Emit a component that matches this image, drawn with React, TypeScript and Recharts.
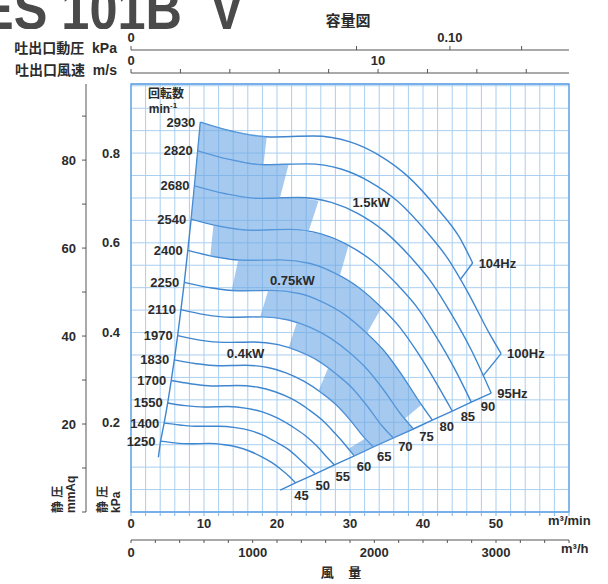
import React from 'react';
import { ComposedChart, Line, Scatter, XAxis, YAxis, CartesianGrid, ReferenceArea } from 'recharts';

// 回転数ごとの静圧曲線 [風量 m3/min, 静圧 kPa]
const c2930 = [[9.5, 0.869], [14, 0.848], [19, 0.836], [25, 0.838], [30, 0.825], [34, 0.795], [38, 0.747], [42, 0.676], [45, 0.612], [46.8, 0.555]];
const c2820 = [[9.14, 0.805], [13.47, 0.786], [18.29, 0.774], [24.06, 0.776], [28.87, 0.764], [32.72, 0.736], [36.57, 0.692], [40.42, 0.626], [43.31, 0.567], [46.2, 0.488], [49.09, 0.398], [50.7, 0.353]];
const c2680 = [[8.69, 0.727], [12.81, 0.71], [17.38, 0.699], [22.87, 0.701], [27.44, 0.69], [31.1, 0.665], [34.76, 0.625], [38.42, 0.566], [41.16, 0.512], [43.9, 0.441], [46.65, 0.36], [49.34, 0.265]];
const c2540 = [[8.24, 0.653], [12.14, 0.637], [16.47, 0.628], [21.67, 0.63], [26.01, 0.62], [29.47, 0.597], [32.94, 0.561], [36.41, 0.508], [39.01, 0.46], [41.61, 0.396], [44.21, 0.323], [46.61, 0.245]];
const c2400 = [[7.78, 0.583], [11.47, 0.569], [15.56, 0.561], [20.48, 0.562], [24.57, 0.554], [27.85, 0.533], [31.13, 0.501], [34.4, 0.454], [36.86, 0.411], [39.32, 0.354], [41.77, 0.289], [44.01, 0.225]];
const c2250 = [[7.3, 0.512], [10.75, 0.5], [14.59, 0.493], [19.2, 0.494], [23.04, 0.487], [26.11, 0.469], [29.18, 0.441], [32.25, 0.399], [34.56, 0.361], [36.86, 0.311], [39.16, 0.254], [41.27, 0.205]];
const c2110 = [[6.84, 0.451], [10.08, 0.44], [13.68, 0.434], [18.0, 0.435], [21.6, 0.428], [24.48, 0.412], [27.37, 0.387], [30.25, 0.351], [32.41, 0.317], [34.57, 0.273], [36.73, 0.223], [38.67, 0.185]];
const c1970 = [[6.39, 0.393], [9.41, 0.383], [12.77, 0.378], [16.81, 0.379], [20.17, 0.373], [22.86, 0.359], [25.55, 0.338], [28.24, 0.306], [30.26, 0.277], [32.27, 0.238], [34.29, 0.194], [35.94, 0.165]];
const c1830 = [[5.93, 0.339], [8.74, 0.331], [11.87, 0.326], [15.61, 0.327], [18.74, 0.322], [21.24, 0.31], [23.73, 0.291], [26.23, 0.264], [28.11, 0.239], [29.98, 0.206], [31.85, 0.168], [33.2, 0.145]];
const c1700 = [[5.51, 0.293], [8.12, 0.286], [11.02, 0.281], [14.51, 0.282], [17.41, 0.278], [19.73, 0.268], [22.05, 0.252], [24.37, 0.228], [26.11, 0.206], [27.85, 0.177], [29.59, 0.145], [30.6, 0.125]];
const c1550 = [[5.03, 0.243], [7.41, 0.237], [10.05, 0.234], [13.23, 0.235], [15.87, 0.231], [17.99, 0.223], [20.1, 0.209], [22.22, 0.189], [23.81, 0.171], [25.39, 0.148], [26.98, 0.12], [27.87, 0.105]];
const c1400 = [[4.54, 0.198], [6.69, 0.194], [9.08, 0.191], [11.95, 0.191], [14.33, 0.188], [16.25, 0.182], [18.16, 0.171], [20.07, 0.154], [21.5, 0.14], [22.94, 0.12], [24.37, 0.098], [25.27, 0.085]];
const c1250 = [[4.05, 0.158], [5.97, 0.154], [8.11, 0.152], [10.67, 0.153], [12.8, 0.15], [14.51, 0.145], [16.21, 0.136], [17.92, 0.123], [19.2, 0.111], [20.48, 0.096], [21.76, 0.078], [22.53, 0.065]];

const speedCurves = [c2930, c2820, c2680, c2540, c2400, c2250, c2110, c1970, c1830, c1700, c1550, c1400, c1250];
const speedLabels = ['2930', '2820', '2680', '2540', '2400', '2250', '2110', '1970', '1830', '1700', '1550', '1400', '1250'];
const freqLabels = ['104Hz', '100Hz', '95Hz', '90', '85', '80', '75', '70', '65', '60', '55', '50', '45'];

// 網掛け範囲（モーター出力帯）
const band1 = [[9.5, 0.869], [14, 0.848], [18.6, 0.837], [18.15, 0.775], [13.47, 0.786], [9.14, 0.805]];
const band2 = [[9.14, 0.805], [13.47, 0.786], [18.29, 0.774], [21.6, 0.775], [20.4, 0.7], [17.38, 0.699], [12.81, 0.71], [8.69, 0.727]];
const band3 = [[8.69, 0.727], [12.81, 0.71], [17.38, 0.699], [22.87, 0.701], [25.7, 0.694], [24.3, 0.624], [21.67, 0.63], [16.47, 0.628], [12.14, 0.637], [8.24, 0.653]];
const band4 = [[11.3, 0.64], [12.14, 0.637], [16.47, 0.628], [21.67, 0.63], [26.01, 0.62], [29.47, 0.597], [29.8, 0.594], [28.6, 0.526], [27.85, 0.533], [24.57, 0.554], [20.48, 0.562], [15.56, 0.561], [11.47, 0.569], [10.86, 0.571]];
const band5 = [[14.7, 0.563], [15.56, 0.561], [20.48, 0.562], [24.57, 0.554], [27.85, 0.533], [31.13, 0.501], [34.3, 0.455], [32.3, 0.398], [29.18, 0.441], [26.11, 0.469], [23.04, 0.487], [19.2, 0.494], [14.59, 0.493], [13.8, 0.494]];
const band6 = [[18.8, 0.494], [19.2, 0.494], [23.04, 0.487], [26.11, 0.469], [29.18, 0.441], [32.25, 0.399], [34.56, 0.361], [36.86, 0.311], [39.16, 0.254], [39.8, 0.239], [37.5, 0.208], [36.73, 0.223], [34.57, 0.273], [32.41, 0.317], [30.25, 0.351], [27.37, 0.387], [24.48, 0.412], [21.6, 0.428], [18.0, 0.435], [17.7, 0.435]];
const band7 = [[22.7, 0.422], [24.48, 0.412], [27.37, 0.387], [30.25, 0.351], [32.41, 0.317], [34.57, 0.273], [36.73, 0.223], [38.67, 0.185], [35.94, 0.165], [34.29, 0.194], [32.27, 0.238], [30.26, 0.277], [28.24, 0.306], [25.55, 0.338], [22.86, 0.359], [21.6, 0.366]];
const band8 = [[27.0, 0.321], [28.24, 0.306], [30.26, 0.277], [32.27, 0.238], [34.29, 0.194], [35.94, 0.165], [33.2, 0.145], [31.85, 0.168], [29.98, 0.206], [28.11, 0.239], [26.23, 0.264], [25.7, 0.27]];
const band9 = [[32.1, 0.164], [33.2, 0.145], [30.6, 0.125], [29.8, 0.141]];
const shadeBands = [band1, band2, band3, band4, band5, band6, band7, band8, band9];

// 境界線
const leftTail = [[3.75, 0.122]];
const endTail = [[20.44, 0.049]];
const arm104 = [[46.8, 0.555], [45.1, 0.518]];
const arm100 = [[50.7, 0.353], [48.25, 0.304]];

const kwNames = ['1.5kW', '0.75kW', '0.4kW'];
const kwPos = [[32.9, 0.689], [22.1, 0.517], [15.7, 0.354]];

// 目盛
const qTicks = [0, 2, 4, 6, 8, 10, 12, 14, 16, 18, 20, 22, 24, 26, 28, 30, 32, 34, 36, 38, 40, 42, 44, 46, 48, 50, 52, 54, 56, 58, 60];
const qLabels = [0, 10, 20, 30, 40, 50];
const hTicks = [0, 200, 400, 600, 800, 1000, 1200, 1400, 1600, 1800, 2000, 2200, 2400, 2600, 2800, 3000, 3200, 3400, 3600];
const hLabels = [0, 1000, 2000, 3000];
const vTicks = [0, 2, 4, 6, 8, 10, 12, 14, 16];
const vLabels = [0, 10];
const pdTicks = [0, 0.05, 0.1, 0.15];
const kpaTicks = [0, 0.05, 0.1, 0.15, 0.2, 0.25, 0.3, 0.35, 0.4, 0.45, 0.5, 0.55, 0.6, 0.65, 0.7, 0.75, 0.8, 0.85, 0.9, 0.95];
const kpaLabels = [0.2, 0.4, 0.6, 0.8];
const mmTicks = [0, 10, 20, 30, 40, 50, 60, 70, 80, 90];
const mmLabels = [20, 40, 60, 80];

const FONT = "'Liberation Sans', Arial, 'Noto Sans CJK JP', sans-serif";
const INK = '#2b2b2b';
const CURVE = '#3f86cf';
const GRID = '#a9cff0';
const tickStyle = { fill: INK, fontSize: 13, fontWeight: 700, fontFamily: FONT };

const toPts = (arr: number[][]) => arr.map(([x, y]) => ({ x, y }));
const near = (list: number[], v: number) => list.some((t) => Math.abs(t - v) < 1e-6);

const Empty = () => <g />;

const BandShape = (p: any) => {
  const pts = p.points || [];
  if (!pts.length) return <g />;
  const d = 'M' + pts.map((q: any) => `${q.x},${q.y}`).join('L') + 'Z';
  return <path d={d} fill="#6aa6e4" fillOpacity={0.6} stroke="none" />;
};

const SpeedText = (p: any) => (
  <text x={p.cx - 5} y={p.cy} textAnchor="end" dominantBaseline="central" style={tickStyle}>
    {p.payload.label}
  </text>
);

// 周波数ラベル：下の方ほど線から離す
const FreqText = (p: any) => {
  const label: string = p.payload.label;
  const hz = label.endsWith('Hz');
  const k = hz ? 0 : (Number(label) - 45) / 5;
  return (
    <text
      x={hz ? p.cx + 6 : p.cx + 6 + 1.2 * k}
      y={hz ? p.cy : p.cy + 13 - 0.9 * k}
      textAnchor={hz ? 'start' : 'middle'}
      dominantBaseline="central"
      style={tickStyle}
    >
      {label}
    </text>
  );
};

const KwText = (p: any) => (
  <text x={p.cx} y={p.cy} textAnchor="middle" dominantBaseline="central" style={tickStyle}>
    {p.payload.label}
  </text>
);

const abs = (s: React.CSSProperties): React.CSSProperties => ({
  position: 'absolute',
  fontFamily: FONT,
  fontWeight: 700,
  color: INK,
  whiteSpace: 'pre',
  lineHeight: 1,
  ...s,
});

export default function App() {
  const leftEdge = [...leftTail, ...speedCurves.slice().reverse().map((c) => c[0])];
  const endLine = [...endTail, ...speedCurves.slice(2).reverse().map((c) => c[c.length - 1])];
  const startPts = speedCurves.map((c, i) => ({ x: c[0][0], y: c[0][1], label: speedLabels[i] }));
  const endPts = speedCurves.map((c, i) => ({ x: c[c.length - 1][0], y: c[c.length - 1][1], label: freqLabels[i] }));
  const kwPts = kwPos.map(([x, y], i) => ({ x, y, label: kwNames[i] }));

  return (
    <div style={{ position: 'absolute', left: 0, top: 0, width: 608, height: 584, overflow: 'hidden', background: '#fff' }}>
      <div
        style={abs({
          left: -20,
          top: -11,
          fontSize: 58,
          lineHeight: '40px',
          height: 40,
          overflow: 'hidden',
          color: '#4a4a4a',
          transform: 'scaleX(0.87)',
          transformOrigin: 'left top',
        })}
      >
        {'ES 101B  V'}
      </div>
      <div style={abs({ left: 348, top: 20, fontSize: 15, transform: 'translate(-50%, -50%)' })}>容量図</div>
      <div style={abs({ right: 608 - 117, top: 48, fontSize: 14, transform: 'translateY(-50%)' })}>吐出口動圧  kPa</div>
      <div style={abs({ right: 608 - 117, top: 70, fontSize: 14, transform: 'translateY(-50%)' })}>吐出口風速  m/s</div>

      <div style={{ position: 'absolute', left: 0, top: 0 }}>
        <ComposedChart width={608} height={584} margin={{ top: 26, right: 39, bottom: 0, left: 46 }}>
          <CartesianGrid xAxisId="b1q" yAxisId="l1kpa" stroke={GRID} strokeWidth={1} />

          <XAxis xAxisId="t1gap" dataKey="x" orientation="top" type="number" domain={[0, 1]} height={11} tick={false} axisLine={false} tickLine={false} allowDataOverflow />
          <XAxis
            xAxisId="t2v"
            dataKey="x"
            orientation="top"
            type="number"
            domain={[0, 17.73]}
            ticks={vTicks}
            height={23}
            tickSize={4}
            tickMargin={4}
            stroke="#555"
            tick={tickStyle}
            tickFormatter={(v: number) => (near(vLabels, v) ? String(v) : '')}
            interval={0}
            allowDataOverflow
          />
          <XAxis
            xAxisId="t3pd"
            dataKey="x"
            orientation="top"
            type="number"
            scale="sqrt"
            domain={[0, 0.1886]}
            ticks={pdTicks}
            height={24}
            tickSize={4}
            tickMargin={4}
            stroke="#555"
            tick={tickStyle}
            tickFormatter={(v: number) => (v === 0 ? '0' : Math.abs(v - 0.1) < 1e-6 ? '0.10' : '')}
            interval={0}
            allowDataOverflow
          />

          <XAxis
            xAxisId="b1q"
            dataKey="x"
            type="number"
            domain={[0, 60]}
            ticks={qTicks}
            height={28}
            axisLine={false}
            tickSize={4}
            tickMargin={3}
            tickLine={{ stroke: '#7fb4e6' }}
            tick={tickStyle}
            tickFormatter={(v: number) => (near(qLabels, v) ? String(v) : '')}
            interval={0}
          />
          <XAxis
            xAxisId="b2h"
            dataKey="x"
            type="number"
            domain={[0, 3600]}
            ticks={hTicks}
            height={44}
            tickSize={3}
            tickMargin={5}
            stroke="#555"
            tick={tickStyle}
            tickFormatter={(v: number) => (near(hLabels, v) ? String(v) : '')}
            interval={0}
            allowDataOverflow
          />

          <YAxis
            yAxisId="l1kpa"
            dataKey="y"
            type="number"
            domain={[0, 0.954]}
            ticks={kpaTicks}
            width={45}
            axisLine={false}
            tickLine={false}
            tickSize={6}
            tickMargin={5}
            tick={tickStyle}
            tickFormatter={(v: number) => (near(kpaLabels, v) ? v.toFixed(1) : '')}
            interval={0}
          />
          <YAxis
            yAxisId="l2mm"
            dataKey="y"
            type="number"
            domain={[0, 97.3]}
            ticks={mmTicks}
            width={40}
            tickSize={4}
            tickMargin={6}
            stroke="#555"
            tick={tickStyle}
            tickFormatter={(v: number) => (near(mmLabels, v) ? String(v) : '')}
            interval={0}
            allowDataOverflow
          />

          {shadeBands.map((b, i) => (
            <Scatter
              key={`band${i}`}
              xAxisId="b1q"
              yAxisId="l1kpa"
              data={toPts(b)}
              line={BandShape}
              shape={Empty}
              isAnimationActive={false}
            />
          ))}

          <ReferenceArea
            xAxisId="b1q"
            yAxisId="l1kpa"
            x1={0}
            x2={60}
            y1={0}
            y2={0.954}
            fill="#fff"
            fillOpacity={0}
            stroke="#5b9fe3"
            strokeWidth={1.3}
            ifOverflow="visible"
          />

          {speedCurves.map((c, i) => (
            <Line
              key={speedLabels[i]}
              xAxisId="b1q"
              yAxisId="l1kpa"
              data={toPts(c)}
              dataKey="y"
              type="monotone"
              stroke={CURVE}
              strokeWidth={1.4}
              dot={false}
              activeDot={false}
              isAnimationActive={false}
            />
          ))}
          <Line xAxisId="b1q" yAxisId="l1kpa" data={toPts(leftEdge)} dataKey="y" type="linear" stroke={CURVE} strokeWidth={1.4} dot={false} isAnimationActive={false} />
          <Line xAxisId="b1q" yAxisId="l1kpa" data={toPts(endLine)} dataKey="y" type="linear" stroke={CURVE} strokeWidth={1.4} dot={false} isAnimationActive={false} />
          <Line xAxisId="b1q" yAxisId="l1kpa" data={toPts(arm104)} dataKey="y" type="linear" stroke={CURVE} strokeWidth={1.4} dot={false} isAnimationActive={false} />
          <Line xAxisId="b1q" yAxisId="l1kpa" data={toPts(arm100)} dataKey="y" type="linear" stroke={CURVE} strokeWidth={1.4} dot={false} isAnimationActive={false} />

          <Scatter xAxisId="b1q" yAxisId="l1kpa" data={startPts} shape={SpeedText} isAnimationActive={false} />
          <Scatter xAxisId="b1q" yAxisId="l1kpa" data={endPts} shape={FreqText} isAnimationActive={false} />
          <Scatter xAxisId="b1q" yAxisId="l1kpa" data={kwPts} shape={KwText} isAnimationActive={false} />
        </ComposedChart>
      </div>

      <div style={abs({ left: 166, top: 94, fontSize: 12, transform: 'translate(-50%, -50%)' })}>回転数</div>
      <div style={abs({ left: 163, top: 108, fontSize: 12, transform: 'translate(-50%, -50%)' })}>
        min<sup style={{ fontSize: 8 }}>-1</sup>
      </div>
      <div style={abs({ left: 548, top: 520, fontSize: 13, transform: 'translateY(-50%)' })}>m³/min</div>
      <div style={abs({ left: 561, top: 548, fontSize: 13, transform: 'translateY(-50%)' })}>m³/h</div>
      <div style={abs({ left: 341, top: 572, fontSize: 13, transform: 'translate(-50%, -50%)' })}>{'風    量'}</div>
      <div
        style={abs({
          left: 65 - 23,
          top: 490 - 13,
          width: 46,
          height: 26,
          fontSize: 12,
          lineHeight: '13px',
          transform: 'rotate(-90deg)',
          transformOrigin: 'center',
        })}
      >
        {'静 圧\nmmAq'}
      </div>
      <div
        style={abs({
          left: 110 - 18,
          top: 495 - 13,
          width: 36,
          height: 26,
          fontSize: 12,
          lineHeight: '13px',
          transform: 'rotate(-90deg)',
          transformOrigin: 'center',
        })}
      >
        {'静 圧\nkPa'}
      </div>
    </div>
  );
}
